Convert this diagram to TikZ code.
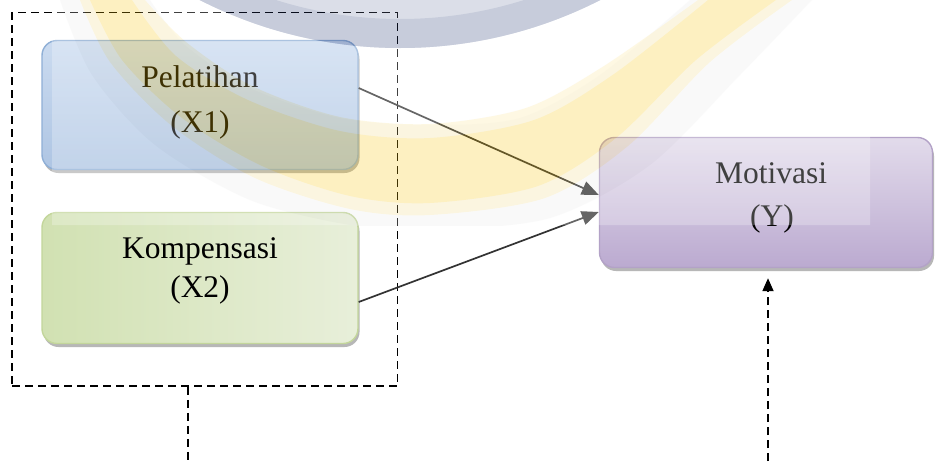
\documentclass[tikz,border=0pt]{standalone}
\usepackage{fontspec}
\setmainfont{Liberation Serif}
\usetikzlibrary{arrows.meta,shadows,calc}
\definecolor{pelTop}{HTML}{CBDBF0}
\definecolor{pelBot}{HTML}{AEC5E3}
\definecolor{pelLine}{HTML}{8FAFD6}
\definecolor{komTop}{HTML}{D1E1B2}
\definecolor{komBot}{HTML}{E8EFDA}
\definecolor{komLine}{HTML}{C3D69B}
\definecolor{motTop}{HTML}{E2DBEB}
\definecolor{motBot}{HTML}{BBAAD0}
\definecolor{motLine}{HTML}{B3A2C7}
\definecolor{gold}{HTML}{F9C50A}
\definecolor{navy}{HTML}{233773}
\definecolor{arrowgray}{HTML}{333333}
\begin{document}
\begin{tikzpicture}[x=1pt,y=-1pt,
  box/.style={draw, line width=1.4pt, rounded corners=15pt, inner sep=0pt,
    drop shadow={shadow xshift=1.5pt, shadow yshift=-3.5pt, opacity=0.4, fill=black!70}},
  lbl/.style={anchor=base, inner sep=0pt, font=\fontsize{31.5}{36}\selectfont},
  dsh/.style={line width=1.8pt, dash pattern=on 8pt off 5pt},
  conn/.style={line width=1.7pt, draw=arrowgray, -{Triangle[length=17pt,width=14pt]}},
]
\useasboundingbox (0,0) rectangle (935,461);
\fill[white] (0,0) rectangle (935,461);

% group box
\node[draw, dsh, minimum width=385.5pt, minimum height=373.5pt, inner sep=0pt] (grp) at (204.75,199.25) {};

% boxes
\node[box, draw=pelLine, top color=pelTop, bottom color=pelBot, minimum width=316pt, minimum height=129pt] (pel) at (200,105) {};
\node[box, draw=komLine, left color=komTop, right color=komBot, minimum width=316pt, minimum height=131pt] (kom) at (200,278) {};
\node[box, draw=motLine, top color=motTop, bottom color=motBot, minimum width=333pt, minimum height=130pt] (mot) at (766,202.5) {};

% labels
\node[lbl] (pelA) at (200,87) {Pelatihan};
\node[lbl] (pelB) at (200,132) {(X1)};
\node[lbl] (komA) at (200,258) {Kompensasi};
\node[lbl] (komB) at (200,297) {(X2)};
\node[lbl] (motA) at (771,183) {Motivasi};
\node[lbl] (motB) at (772,226) {(Y)};

% connectors
\draw[conn] ([yshift=17pt]pel.east) -- ([yshift=7.5pt]mot.west);
\draw[conn] ([yshift=-24pt]kom.east) -- ([yshift=-9.5pt]mot.west);

\coordinate (c1) at (188,461);
\draw[dsh] (grp.south -| c1) -- (c1);
\coordinate (c2) at (768,461);
\coordinate (c2t) at ($(mot.south -| c2)+(0,10)$);
\draw[dsh, -{Triangle[length=13pt,width=11pt]}] (c2) -- (c2t);

% watermark overlay
\begin{scope}[transparency group, opacity=0.25]
  \clip (52,0) rectangle (870,225);
  \fill[white] (52,0) rectangle (870,225);
  \fill[gray!16] plot[smooth] coordinates {(60,0) (92,75) (155,145) (250,200) (350,225) (430,230) (550,218) (650,165) (740,75) (812,0)}
     -- plot[smooth] coordinates {(690,0) (600,75) (520,118) (430,125) (340,118) (250,88) (185,45) (150,0)} -- cycle;
  \fill[gold, opacity=0.45] plot[smooth] coordinates {(80,0) (110,62) (172,126) (255,178) (350,209) (430,215) (545,198) (628,146) (710,62) (792,0)}
     -- plot[smooth] coordinates {(698,0) (604,66) (526,108) (430,124) (340,117) (252,86) (186,42) (145,0)} -- cycle;
  \fill[gold] plot[smooth] coordinates {(90,0) (122,60) (182,118) (262,166) (350,196) (430,203) (538,186) (616,138) (696,60) (776,0)}
     -- plot[smooth] coordinates {(708,0) (614,74) (534,120) (430,138) (340,131) (248,100) (176,56) (132,0)} -- cycle;
  \fill[navy!65!white] (400,-393) circle[radius=441];
  \fill[navy, even odd rule] (400,-393) circle[radius=441] (400,-393) circle[radius=412];
\end{scope}
\end{tikzpicture}
\end{document}
